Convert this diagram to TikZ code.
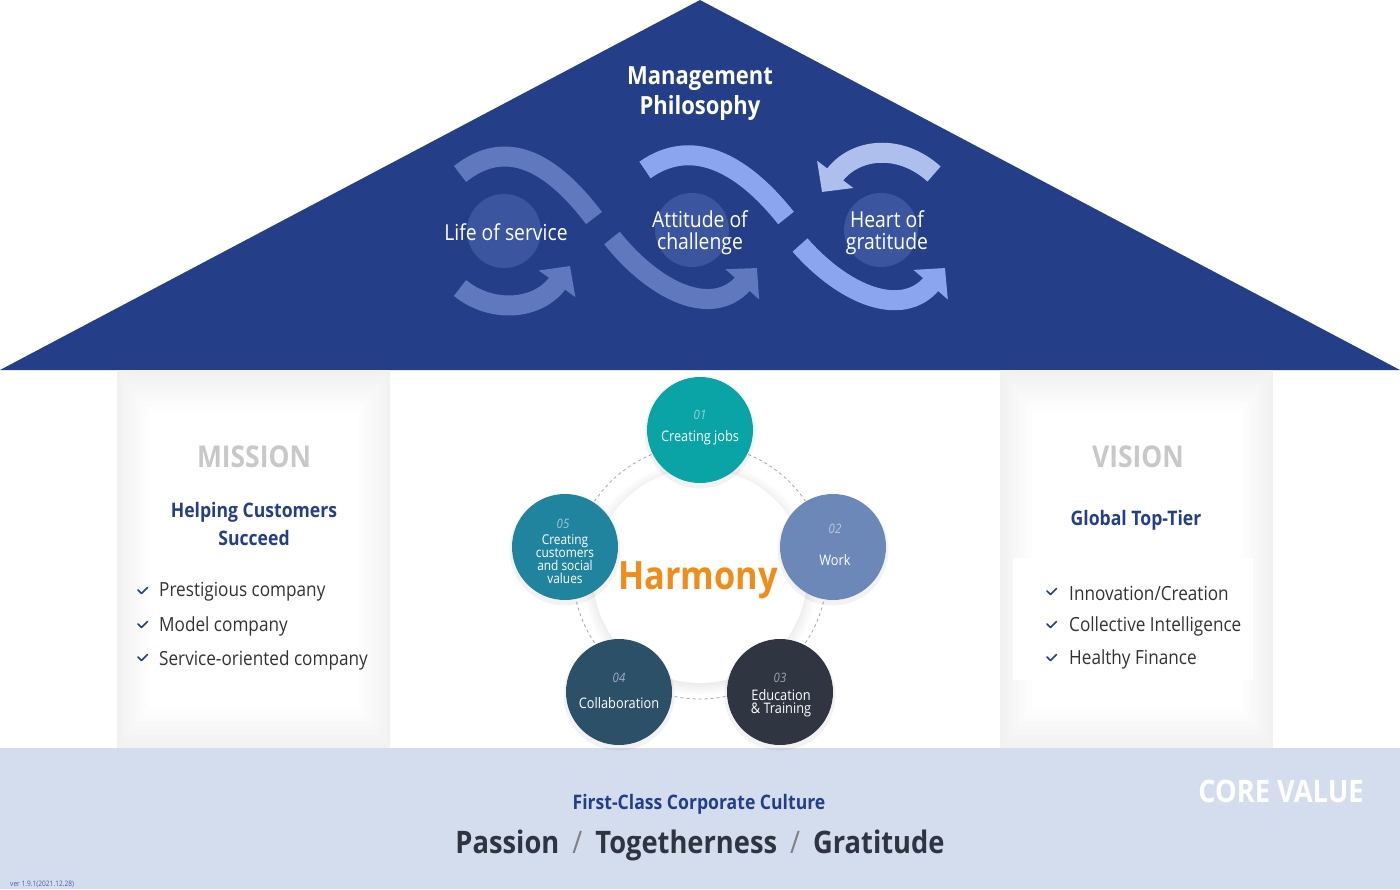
\documentclass[tikz,border=0pt]{standalone}
\usepackage{fontspec}
\setmainfont{Open Sans}[FakeStretch=0.88]
\usetikzlibrary{arrows.meta}
\definecolor{navy}{HTML}{243F88}
\definecolor{rcirc}{HTML}{3C559F}
\definecolor{bandA}{HTML}{5F78BE}
\definecolor{bandB}{HTML}{8BA6EE}
\definecolor{bandC}{HTML}{AEBFEE}
\definecolor{grayT}{HTML}{C8C8C8}
\definecolor{darkT}{HTML}{333333}
\definecolor{coreband}{HTML}{D4DDEE}
\definecolor{harm}{HTML}{F08C1A}
\definecolor{cA}{HTML}{0AA3A6}
\definecolor{cB}{HTML}{6C88B8}
\definecolor{cC}{HTML}{2F3541}
\definecolor{cD}{HTML}{2B5068}
\definecolor{cE}{HTML}{21849F}
\definecolor{valT}{HTML}{2F3540}
\definecolor{verT}{HTML}{4A5EA8}
\tikzset{
  band/.style={line width=20pt, line cap=butt},
  arr/.style={band, -{Triangle[length=22pt,width=44pt]}},
  bub/.style={circle, minimum size=106pt, inner sep=0pt},
  num/.style={font=\fontsize{13}{13}\selectfont\itshape, text=white, text opacity=.55},
  blab/.style={font=\fontsize{14.5}{13}\selectfont, text=white, align=center},
  roofcirc/.style={circle, fill=rcirc, minimum size=74pt, inner sep=0pt},
  rooflab/.style={text=white, font=\fontsize{22}{22}\selectfont, align=center},
  head/.style={text=grayT, font=\fontsize{30}{30}\selectfont\bfseries},
  sub/.style={text=navy, font=\fontsize{20}{28}\selectfont\bfseries, align=center},
  item/.style={text=darkT, font=\fontsize{19.5}{20}\selectfont, anchor=west, inner sep=0pt},
  chk/.style={draw=navy, line width=1.5pt, line cap=round, line join=round},
}
\newcommand{\panel}[2]{%
  \foreach \k [evaluate=\k as \c using 5.5-0.6*\k] in {0,...,9}
    \fill[black!\c] (#1+3.5*\k, 370+4.5*\k) rectangle (#2-3.5*\k, 748-4.5*\k);
}
\newcommand{\chkmark}[2]{\draw[chk] (#1-5,#2-1) -- (#1-1.5,#2+2.5) -- (#1+4.5,#2-3.5);}
\begin{document}
\begin{tikzpicture}[x=1pt,y=-1pt]
\useasboundingbox (0,0) rectangle (1400,889);
\fill[white] (0,0) rectangle (1400,889);

% roof
\fill[navy] (0,370) -- (700,0) -- (1400,370) -- cycle;
\node[text=white, font=\fontsize{25}{30}\selectfont\bfseries, align=center] (mp) at (700,94) {Management\\Philosophy};

\node[roofcirc] (rc1) at (504,231) {};
\node[roofcirc] (rc2) at (692,230) {};
\node[roofcirc] (rc3) at (881,230) {};

% wave bands
\draw[band, bandA] (460,174) .. controls (505,138) and (550,160) .. (594,218);
\draw[arr, bandA] (460,288) .. controls (492,314) and (538,310) .. (570,266);
\draw[band, bandB] (645,170) .. controls (690,138) and (740,160) .. (786,218);
\draw[arr, bandA] (612,238) .. controls (655,292) and (712,318) .. (757,268);
\draw[arr, bandC] (934,174) .. controls (900,143) and (855,148) .. (822,192);
\draw[arr, bandB] (800,245) .. controls (845,296) and (902,318) .. (945,268);

\node[rooflab] (l1) at (506,232) {Life of service};
\node[rooflab] (l2) at (700,233) {Attitude of\\challenge};
\node[rooflab] (l3) at (887,233) {Heart of\\gratitude};

% panels
\panel{117}{390}
\panel{1000}{1273}
\fill[white] (1013,558) rectangle (1253,680);

% bottom band
\fill[coreband] (0,748) rectangle (1400,889);

% mission
\node[head] (mis) at (254,457) {MISSION};
\node[sub] (missub) at (254,524) {Helping Customers\\Succeed};
\chkmark{143}{591}
\node[item] (m1) at (159,592) {Prestigious company};
\chkmark{143}{625}
\node[item] (m2) at (159,626) {Model company};
\chkmark{143}{658}
\node[item] (m3) at (159,660) {Service-oriented company};

% vision
\node[head] (vis) at (1138,457) {VISION};
\node[sub] (vissub) at (1136,520) {Global Top-Tier};
\chkmark{1052}{592}
\node[item] (v1) at (1069,593) {Innovation/Creation};
\chkmark{1052}{625}
\node[item] (v2) at (1069,626) {Collective Intelligence};
\chkmark{1052}{658}
\node[item] (v3) at (1069,659) {Healthy Finance};

% harmony
\draw[gray!70, line width=0.8pt, dash pattern=on 3pt off 3pt] (700,572) circle (127);
\foreach \r in {117,115,...,107}
  \fill[black, opacity=0.01] (700,578) circle (\r);
\fill[white] (700,576) circle (107);
\node[text=harm, font=\fontsize{39}{39}\selectfont\bfseries] (harmony) at (698,580) {Harmony};

\foreach \x/\y in {700/430, 833/547, 780/692, 619/692, 565/547}
  \fill[black, opacity=0.05] (\x,\y+3) circle (55.5);

\node[bub, fill=cA] (b1) at (700,430) {};
\node[bub, fill=cB] (b2) at (833,547) {};
\node[bub, fill=cC] (b3) at (780,692) {};
\node[bub, fill=cD] (b4) at (619,692) {};
\node[bub, fill=cE] (b5) at (565,547) {};

\node[num] (n1) at (700,415) {01};
\node[blab] (t1) at (700,438) {Creating jobs};
\node[num] (n2) at (835,529) {02};
\node[blab] (t2) at (835,560) {Work};
\node[num] (n3) at (780,678) {03};
\node[blab] (t3) at (781,703) {Education\\\& Training};
\node[num] (n4) at (619,678) {04};
\node[blab] (t4) at (619,703) {Collaboration};
\node[num] (n5) at (563,524) {05};
\node[blab, font=\fontsize{13.5}{13}\selectfont] (t5) at (565,559) {Creating\\customers\\and social\\values};

% core value
\node[text=white, font=\fontsize{31}{31}\selectfont\bfseries] (cv) at (1281,791) {CORE VALUE};
\node[text=navy, font=\fontsize{20}{20}\selectfont\bfseries] (fc) at (699,804) {First-Class Corporate Culture};
\node[text=valT, font=\fontsize{31}{31}\selectfont\bfseries] (vals) at (700,845)
  {Passion\hspace{13pt}{\mdseries\color{gray}/}\hspace{13pt}Togetherness\hspace{13pt}{\mdseries\color{gray}/}\hspace{13pt}Gratitude};
\node[text=verT, font=\fontsize{7.5}{8}\selectfont, anchor=west, inner sep=0pt] (ver) at (10,884) {ver 1.9.1(2021.12.28)};
\end{tikzpicture}
\end{document}
